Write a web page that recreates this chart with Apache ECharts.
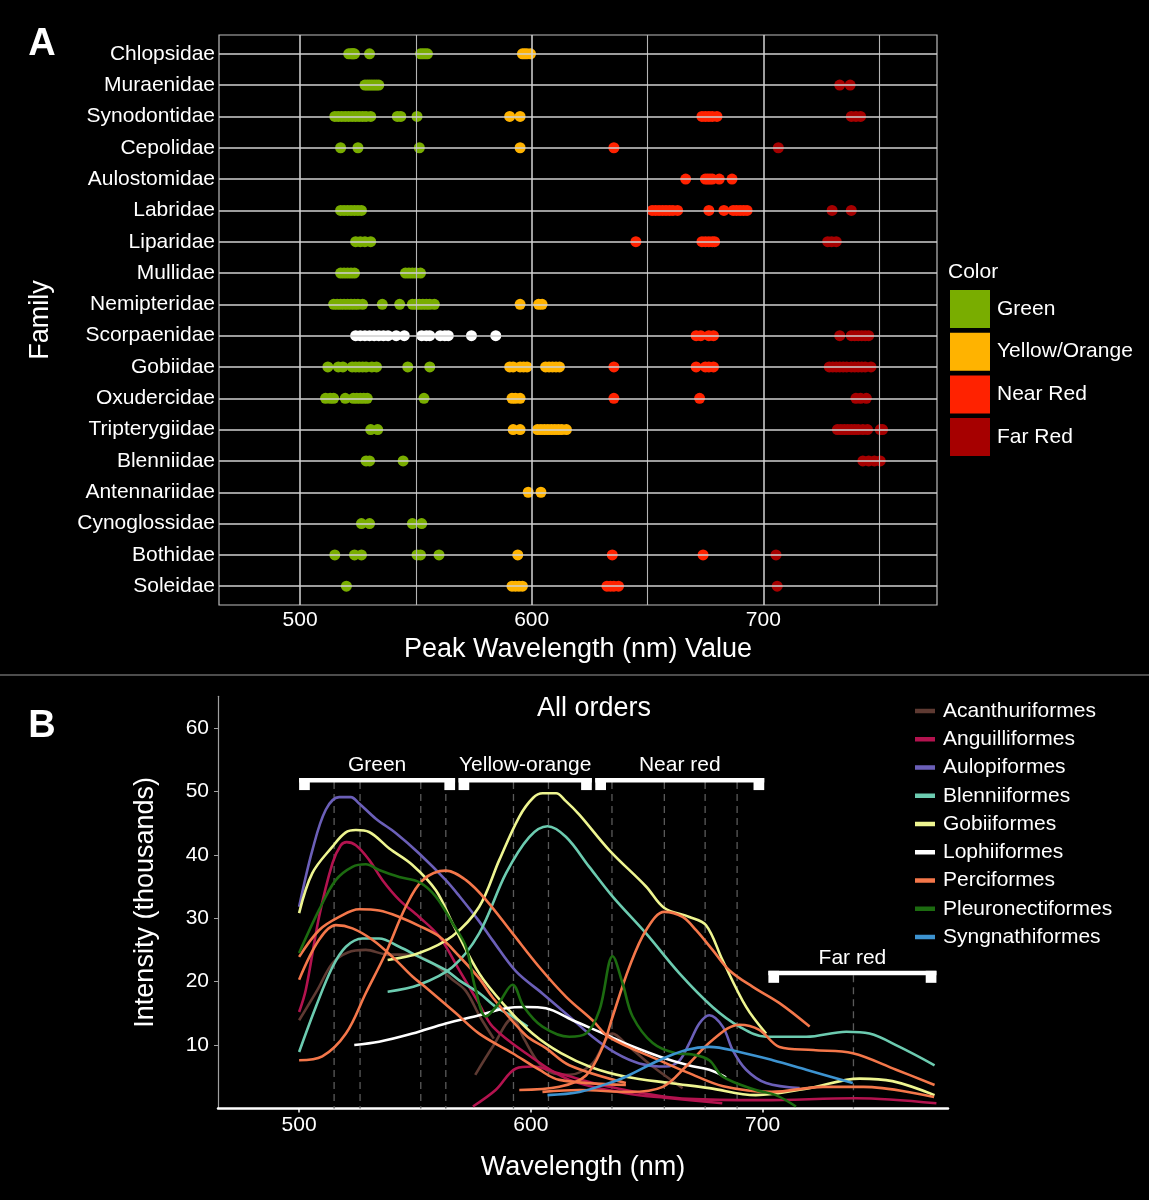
<!DOCTYPE html>
<html>
<head>
<meta charset="utf-8">
<script src="https://cdn.jsdelivr.net/npm/echarts@6/dist/echarts.min.js"></script>
<style>
html,body{margin:0;padding:0;background:#000;}
#chart{width:1149px;height:1200px;}
</style>
</head>
<body>
<div id="chart"></div>
<script>
// panel A: families, one row each (top to bottom)
var families = ['Chlopsidae','Muraenidae','Synodontidae','Cepolidae','Aulostomidae','Labridae','Liparidae','Mullidae',
    'Nemipteridae','Scorpaenidae','Gobiidae','Oxudercidae','Tripterygiidae','Blenniidae','Antennariidae',
    'Cynoglossidae','Bothidae','Soleidae'];

// peak wavelengths per family (same order as families)
var greenNm = [
    [521,522,522.5,523,523.5,530,552,553,554,555],
    [528,529,530,531,532,533,534],
    [515,516.5,518,519.5,521,522.5,524,525.5,527,528.5,530.5,542,543.5,550.5],
    [517.5,525,551.5],
    [],
    [517.5,519,520.5,522,523.5,525,526.5],
    [524,526,528,530.5],
    [517.5,519,520.5,522,523.5,545.5,547,548.5,550,552],
    [514.5,516,517.5,519,520.5,522,523.5,525,527,535.5,543,548.5,550,551.5,553,554.5,556,558],
    [],
    [512,516.5,518.5,522.5,524,525.5,527,528.5,531,533,546.5,556],
    [511,513,514.5,519.5,523,524.5,526,527.5,529,553.5],
    [530.5,533.5],
    [528.5,530,544.5],
    [],
    [526.5,530,548.5,552.5],
    [515,523.5,526.5,550.5,552,560],
    [520]
];
var orangeNm = [
    [596,597,598,599.5],[],[590.5,595],[595],[],[],[],[],
    [595,603,604.5],[],
    [590.5,592,595,596.5,598,606,607.5,609,610.5,612],
    [591.5,593,595],
    [592,595,602.5,604,605.5,607,608.5,610,611.5,613,615],
    [],[598.5,604],[],[594],[591.5,593,594.5,596]
];
var nearRedNm = [
    [],[],[673.5,675,676.5,678,680],[635.5],
    [666.5,675,676,677,678,681,686.5],
    [652,653.5,655,656.5,658,659.5,661,663,676.5,683,687,688.5,690,691.5,693],
    [645,673.5,675,676.5,678,679],
    [],[],[671,673,676.5,678.5],
    [635.5,671,675,676.5,678.5],
    [635.5,672.5],
    [],[],[],[],[634.8,674],[632.5,634,635.5,637.5]
];
var farRedNm = [
    [],[733,737.5],[738,740,742],[706.5],[],[729.7,738],[727.8,729.5,731.5],[],[],
    [733,738,739.5,741,742.5,744,745.5],
    [728.5,730,731.5,733,734.5,736,738,739.5,741,742.5,744,746.5],
    [740,742,744.5],
    [732,733.5,735,736.5,738,739.5,741,743,745,750.5,751.5],
    [743,745.5,748,750.5],
    [],[],[705.5],[706]
];
var whiteNm = [];
whiteNm[9] = [524,526,528,530,532,534,536,538,541.5,545,552.5,554.5,556,560.5,562.5,564,574,584.5];

var colorNames = ['Green','Yellow/Orange','Near Red','Far Red'];
var colorHex = ['#79ad00','#ffb300','#ff2200','#a60000'];

// panel B: spectra, [wavelength, intensity (thousands)]
var orders = ['Acanthuriformes','Anguilliformes','Aulopiformes','Blenniiformes','Gobiiformes',
    'Lophiiformes','Perciformes','Pleuronectiformes','Syngnathiformes'];
var orderColors = ['#5e3a32','#b3134f','#6b5fb8','#6ccbb0','#eef590','#ffffff','#f4774a','#1c6b10','#3d93d0'];

var acanthuriformes = [
    [[500,13.9],[507.9,18.7],[514.4,22.9],[521,24.6],[528.8,25.0],[537.4,24.3],[548.9,24.2],[557.6,22.9],[566.2,20.3],[572,18.5],[578,14.5],[584,11]],
    [[576,5.3],[584,10],[592.1,14.2],[597,11],[603.6,7.1],[610,5.5],[616.6,5.3],[626.6,7.1],[635.2,11.8],[642.5,9.7],[652.6,6.6],[665.5,3.2]]
];
var anguilliformes = [
    [[500,15.2],[502.9,18.7],[508.6,30.2],[514.4,38.7],[518,41.5],[520.5,42],[524.5,41.5],[530.2,39.2],[536,36],[543.2,32.9],[551.8,30.2],[560.5,27.1],[569.1,21.8],[577.7,16.5],[583.5,12.9],[597.9,8.7],[616.6,4.5],[641,2.4],[660,1.6],[682.6,0.8]],
    [[575,0.3],[584.8,2.9],[593.6,6.3],[600.8,6.6],[612.3,5.5],[633.9,3.4],[668,1.5],[700,1.3],[740,1.6],[775,0.8]]
];
var aulopiformes = [
    [[500,31.8],[505.7,40.7],[511.5,47.1],[517.3,49.1],[522.3,49.1],[525.9,48.1],[533.1,45.7],[541.8,43.4],[551.8,40.2],[563.3,36],[569.1,33.5],[577.7,29.5],[583.5,26.5],[593.6,21.6],[605.1,18.1],[616.6,14.5],[626.6,11.3],[636.7,8.7],[646.8,7.1],[658.3,6.6],[664,7.5],[668.4,10.3],[672.7,13.4],[677,14.7],[682.8,12.9],[687.1,9.2],[692.9,6.1],[701.5,4.0],[716,3.2]]
];
var blenniiformes = [
    [[538.2,18.4],[551.8,19.5],[566.2,22.3],[577.7,27.6],[589.3,37.1],[599.3,42.8],[607.2,44.5],[615.2,42.8],[625.2,38.1],[635.3,33.4],[649.7,27.6],[664.1,21.3],[678.4,16],[690,12.9],[701.5,11.3],[718.8,11.3],[736.1,12.1],[746.1,11.8],[759.1,9.7],[774.2,6.8]],
    [[500,8.9],[507.2,16],[514.4,22.3],[520.2,25.5],[527.3,26.8],[534.5,26.8],[543.2,25.5],[551.8,23.9],[563.3,21.8],[569.1,20.2],[577.7,18.2],[584.9,16],[592.1,14.5],[598.6,12.9]]
];
var gobiiformes = [
    [[500,30.8],[505.7,37.1],[514.4,41.3],[520,43.5],[524.5,43.9],[530.2,43.6],[538.9,41],[548.9,38.4],[559,34.4],[566.5,29],[577.7,21.3],[589.3,16],[600.7,11.8],[613,8.7],[626,6.5],[641,5.0],[660,4],[677,3.2],[697,2.1],[720,3.2],[741.8,4.7],[756,4.3],[774.2,2.1]],
    [[538.2,23.4],[551.8,24.5],[566.2,27.2],[577.7,31.8],[586.4,39.2],[595,46],[601,49],[605.1,49.7],[610.9,49.7],[615,48.5],[621,46.3],[633.9,40.7],[649.7,35],[657.6,31.6],[668.4,30.2],[675.6,28.9],[682.7,23.4],[692.9,16],[701.5,11.8]]
];
var lophiiformes = [
    [[523.8,10],[534.5,10.5],[548.9,11.8],[563.3,13.4],[577.7,14.7],[589.2,15.8],[597.9,16],[606.5,15.8],[618,13.9],[633.9,11.4],[641,10.2],[655.4,8.2],[668,6.8],[677,6.1],[684.2,4.9]]
];
var perciformes = [
    [[500,23.9],[508.6,28.1],[517.3,30.2],[525.9,31.4],[534.5,31.2],[543.2,30.2],[551.8,28.8],[560.5,27.1],[569.1,24],[577.7,20.5],[583.5,17.5],[597.9,11.5],[606.5,9.5],[616.6,6.8],[641,4.0]],
    [[500,20.3],[508.6,26.6],[515.8,28.9],[523,28.4],[531.6,26.6],[540.3,23.9],[548.9,20.8],[553.3,19.5],[567.7,15],[577.7,11.8],[592.1,8.7],[603.6,6.1],[612.3,4.5],[641,3.7]],
    [[500,7.6],[510,8.2],[520.2,11.8],[528.8,18.2],[537.4,24.5],[546,31.8],[553.3,36],[563.3,37.5],[572,36],[580.6,32.9],[592.1,27.6],[603.6,22.3],[615.2,17.6],[626.6,13.9],[633.9,11.2],[655.4,7.6],[668,5.6],[683,3.5],[704,2.6],[726,3.4],[743.5,3.4],[774,1.8]],
    [[595,2.9],[612.3,3.4],[623.8,5.2],[631,9.7],[635.3,14.5],[642.5,22.3],[649.7,28.1],[657.6,31],[665.5,30.2],[671.3,28.1],[678.4,25],[685.6,21.8],[695.6,19.2],[707.3,16.6],[720.3,12.9]],
    [[605,2.6],[621,2.9],[642.5,2.6],[656.9,3.4],[666.9,6.6],[678.4,10.8],[690,13.2],[698.6,12.4],[707.3,9.7],[721.8,9.2],[738.9,8.7],[757.6,6.1],[774.2,3.7]]
];
var pleuronectiformes = [
    [[500,24.5],[508.6,31.3],[515.8,36],[523,38.1],[528.8,38.5],[534.5,37.6],[543.2,36.5],[551.8,35.7],[559,33.4],[566.2,29.2],[572,25.5],[576,19],[580.6,14.5],[586,16.5],[592.1,19.5],[597,16],[605,12.9],[616.6,11.3],[623.8,11.8],[629.6,15.5],[635.3,24],[639.6,19.7],[643.9,14.5],[652.6,10.3],[662.6,8.7],[669.8,8.5],[677,7.6],[682.8,5.0],[697.1,2.9],[705.7,2.1],[714.4,0.3]]
];
var syngnathiformes = [
    [[607.2,2.1],[621,2.6],[633.9,4.0],[641,5],[655.4,7.6],[667,9.2],[677,9.7],[690,8.9],[704.4,7.6],[718.8,6.1],[738.9,4.0]]
];
var orderCurves = [acanthuriformes, anguilliformes, aulopiformes, blenniiformes, gobiiformes,
    lophiiformes, perciformes, pleuronectiformes, syngnathiformes];

// colour bands and the peak markers under them
var bandNames = ['Green','Yellow-orange','Near red','Far red'];
var bandFrom = [500, 568.8, 627.8, 702.5];
var bandTo = [567.3, 626.3, 700.7, 775];
var bandLevel = [52.1, 52.1, 52.1, 21.7];
var peakNm = [515.1, 526.3, 552.5, 563.3, 592.5, 607.6, 635, 657.6, 675.2, 689, 739.2];
var peakTop = [51.5, 51.5, 51.5, 51.5, 51.5, 51.5, 51.5, 51.5, 51.5, 51.5, 21];
var intensityTicks = [10, 20, 30, 40, 50, 60];
var wlTicks = [500, 600, 700];

var FONT = 'Liberation Sans, Arial, sans-serif';

function rowPoints(list){
    var pts = [];
    for (var i = 0; i < families.length; i++) {
        var vals = list[i] || [];
        for (var j = 0; j < vals.length; j++) pts.push([vals[j], i]);
    }
    return pts;
}

var series = [];

// grid lines of panel A
var gridLines = [];
wlTicks.forEach(function(v){ gridLines.push({xAxis: v, lineStyle: {color: '#d4d4d4', width: 1.5}}); });
[550, 650, 750].forEach(function(v){ gridLines.push({xAxis: v, lineStyle: {color: '#b4b4b4', width: 1.1}}); });
families.forEach(function(f, i){ gridLines.push({yAxis: i, lineStyle: {color: '#d0d0d0', width: 1.5}}); });
series.push({
    type: 'scatter', xAxisIndex: 0, yAxisIndex: 0, data: [], silent: true, z: 1,
    markLine: {symbol: 'none', silent: true, animation: false, label: {show: false},
        lineStyle: {type: 'solid'}, data: gridLines}
});

var dotSets = [greenNm, orangeNm, nearRedNm, farRedNm];
for (var c = 0; c < dotSets.length; c++) {
    series.push({
        type: 'scatter', name: colorNames[c], xAxisIndex: 0, yAxisIndex: 0,
        symbolSize: 11, color: colorHex[c], itemStyle: {color: colorHex[c], opacity: 1},
        data: rowPoints(dotSets[c]), z: 3, silent: true
    });
}
series.push({
    type: 'scatter', name: 'white', xAxisIndex: 0, yAxisIndex: 0,
    symbolSize: 11, itemStyle: {color: '#ffffff', opacity: 1},
    data: rowPoints(whiteNm), z: 3, silent: true
});

// dashed peak markers
series.push({
    type: 'custom', xAxisIndex: 1, yAxisIndex: 1, z: 1, silent: true,
    data: peakNm.map(function(x, i){ return [x, peakTop[i]]; }),
    renderItem: function(params, api){
        var a = api.coord([api.value(0), api.value(1)]);
        var b = api.coord([api.value(0), 0]);
        return {type: 'line', shape: {x1: a[0], y1: a[1], x2: b[0], y2: b[1]},
            style: {stroke: '#5a5a5a', lineWidth: 1.3, lineDash: [7, 5]}};
    }
});

// spectra
orderCurves.forEach(function(curves, k){
    curves.forEach(function(curve){
        series.push({
            type: 'line', name: orders[k], xAxisIndex: 1, yAxisIndex: 1,
            data: curve, smooth: 0.35, showSymbol: false, symbol: 'none',
            color: orderColors[k], lineStyle: {color: orderColors[k], width: 2.6},
            z: 2, silent: true
        });
    });
});

// band brackets
series.push({
    type: 'custom', xAxisIndex: 1, yAxisIndex: 1, z: 4, silent: true,
    encode: {x: [0, 1], y: 2},
    data: bandNames.map(function(n, i){ return [bandFrom[i], bandTo[i], bandLevel[i]]; }),
    renderItem: function(params, api){
        var p1 = api.coord([api.value(0), api.value(2)]);
        var p2 = api.coord([api.value(1), api.value(2)]);
        return {type: 'group', children: [
            {type: 'rect', shape: {x: p1[0], y: p1[1], width: p2[0] - p1[0], height: 4.5}, style: {fill: '#fff'}},
            {type: 'rect', shape: {x: p1[0], y: p1[1], width: 10.7, height: 12}, style: {fill: '#fff'}},
            {type: 'rect', shape: {x: p2[0] - 10.7, y: p1[1], width: 10.7, height: 12}, style: {fill: '#fff'}},
            {type: 'text', style: {text: bandNames[params.dataIndex], x: (p1[0] + p2[0]) / 2, y: p1[1] - 2,
                textAlign: 'center', textVerticalAlign: 'bottom', fill: '#fff', font: '21px ' + FONT}}
        ]};
    }
});

var chart = echarts.init(document.getElementById('chart'));
chart.setOption({
    backgroundColor: '#000',
    animation: false,
    textStyle: {fontFamily: FONT},
    grid: [
        {left: 219, top: 35, width: 718, height: 570, show: true, borderColor: '#bdbdbd', borderWidth: 1.2, backgroundColor: 'transparent'},
        {left: 218, top: 696.3, width: 730, height: 412.1}
    ],
    xAxis: [
        {type: 'value', gridIndex: 0, min: 465, max: 775,
            name: 'Peak Wavelength (nm) Value', nameLocation: 'middle', nameGap: 31,
            nameTextStyle: {color: '#fff', fontSize: 27, fontFamily: FONT},
            axisLine: {show: false}, axisTick: {show: false}, splitLine: {show: false},
            axisLabel: {customValues: wlTicks, color: '#fff', fontSize: 21, margin: 5, fontFamily: FONT}},
        {type: 'value', gridIndex: 1, min: 465, max: 780,
            name: 'Wavelength (nm)', nameLocation: 'middle', nameGap: 46,
            nameTextStyle: {color: '#fff', fontSize: 27, fontFamily: FONT},
            axisLine: {show: true, lineStyle: {color: '#fff', width: 2.5}},
            axisTick: {show: true, customValues: wlTicks, length: 4, lineStyle: {color: '#fff', width: 1.5}},
            splitLine: {show: false},
            axisLabel: {customValues: wlTicks, color: '#fff', fontSize: 21, margin: 6, fontFamily: FONT}}
    ],
    yAxis: [
        {type: 'value', gridIndex: 0, min: -0.6, max: 17.6, inverse: true,
            name: 'Family', nameLocation: 'middle', nameGap: 165, nameRotate: 90,
            nameTextStyle: {color: '#fff', fontSize: 27, fontFamily: FONT},
            axisLine: {show: false}, axisTick: {show: false}, splitLine: {show: false},
            axisLabel: {customValues: families.map(function(f, i){ return i; }), color: '#fff', fontSize: 21, margin: 4, fontFamily: FONT,
                formatter: function(v){ return families[Math.round(v)] || ''; }}},
        {type: 'value', gridIndex: 1, min: 0, max: 65,
            name: 'Intensity (thousands)', nameLocation: 'middle', nameGap: 59, nameRotate: 90,
            nameTextStyle: {color: '#fff', fontSize: 27, fontFamily: FONT},
            axisLine: {show: true, lineStyle: {color: '#a0a0a0', width: 1.2}},
            axisTick: {show: true, customValues: intensityTicks, length: 4, lineStyle: {color: '#a0a0a0'}},
            splitLine: {show: false},
            axisLabel: {customValues: intensityTicks, color: '#fff', fontSize: 21, margin: 9, fontFamily: FONT}}
    ],
    legend: [
        {data: colorNames, orient: 'vertical', left: 950, top: 290, padding: 0, itemWidth: 40, itemHeight: 38, itemGap: 4.7,
            icon: 'rect', selectedMode: false, textStyle: {color: '#fff', fontSize: 21, fontFamily: FONT, padding: [0, 0, 0, 2]}},
        {data: orders, orient: 'vertical', left: 915, top: 700.5, padding: 0, itemWidth: 20, itemHeight: 4.5, itemGap: 7.25,
            icon: 'rect', selectedMode: false, textStyle: {color: '#fff', fontSize: 21, lineHeight: 21, fontFamily: FONT, padding: [0, 0, 0, 3]}}
    ],
    graphic: [
        {type: 'line', shape: {x1: 0, y1: 675, x2: 1149, y2: 675}, style: {stroke: '#9a9a9a', lineWidth: 1.2}},
        {type: 'text', x: 42, y: 45, style: {text: 'A', font: 'bold 38px ' + FONT, fill: '#fff', textAlign: 'center', textVerticalAlign: 'middle'}},
        {type: 'text', x: 42, y: 727, style: {text: 'B', font: 'bold 38px ' + FONT, fill: '#fff', textAlign: 'center', textVerticalAlign: 'middle'}},
        {type: 'text', x: 948, y: 272, style: {text: 'Color', font: '21px ' + FONT, fill: '#fff', textAlign: 'left', textVerticalAlign: 'middle'}},
        {type: 'text', x: 594, y: 709, style: {text: 'All orders', font: '27px ' + FONT, fill: '#fff', textAlign: 'center', textVerticalAlign: 'middle'}}
    ],
    series: series
});
</script>
</body>
</html>
